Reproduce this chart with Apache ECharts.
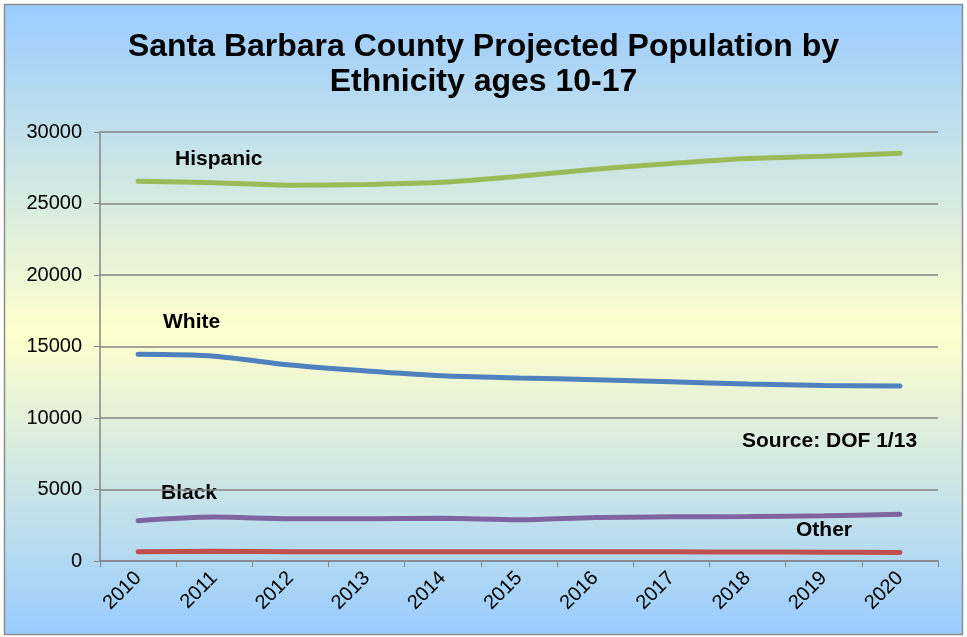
<!DOCTYPE html>
<html><head><meta charset="utf-8">
<script src="https://cdn.jsdelivr.net/npm/echarts@6/dist/echarts.min.js"></script>
<style>html,body{margin:0;padding:0;background:#fff}#c{width:967px;height:637px}</style>
</head><body><div id="c"></div>
<script>
var years = ['2010','2011','2012','2013','2014','2015','2016','2017','2018','2019','2020'];
var hispanic = [26550, 26450, 26280, 26330, 26480, 26900, 27400, 27800, 28150, 28300, 28520];
var white = [14450, 14320, 13700, 13280, 12950, 12800, 12680, 12530, 12380, 12280, 12230];
var black = [2820, 3070, 2960, 2960, 2990, 2890, 3050, 3090, 3110, 3160, 3270];
var other = [640, 680, 650, 650, 650, 650, 650, 640, 630, 620, 600];
var yTicks = [0, 5000, 10000, 15000, 20000, 25000, 30000];

var chart = echarts.init(document.getElementById('c'));
var font = '"Liberation Sans", Arial, sans-serif';
function ser(name, data, color) {
  return {name: name, type: 'line', data: data, smooth: 0.3, symbol: 'none',
    lineStyle: {color: color, width: 5, cap: 'round'}, z: 5};
}
var lbl = 'bold 21px ' + font;
chart.setOption({
  animation: false,
  graphic: [
    {type: 'rect', shape: {x: 4.5, y: 4.5, width: 958, height: 630}, z: -10,
     style: {stroke: '#8c8c8c', lineWidth: 1.5,
       fill: {type: 'linear', x: 0, y: 0, x2: 0, y2: 1, colorStops: [
         {offset: 0, color: '#99CCFF'}, {offset: 0.52, color: '#FFFFCC'}, {offset: 1, color: '#99CCFF'}]}}},
    {type: 'text', left: 175, top: 149, style: {text: 'Hispanic', font: lbl, fill: '#000'}},
    {type: 'text', left: 163, top: 312, style: {text: 'White', font: lbl, fill: '#000'}},
    {type: 'text', left: 161, top: 483, style: {text: 'Black', font: lbl, fill: '#000'}},
    {type: 'text', left: 796, top: 520, style: {text: 'Other', font: lbl, fill: '#000'}},
    {type: 'text', left: 742, top: 431, style: {text: 'Source: DOF 1/13', font: 'bold 21px ' + font, fill: '#000'}}
  ],
  title: {text: 'Santa Barbara County Projected Population by\nEthnicity ages 10-17', left: 'center', top: 25,
    textStyle: {fontFamily: font, fontWeight: 'bold', fontSize: 32, lineHeight: 35, color: '#000'}},
  grid: {left: 100, right: 29, top: 132, bottom: 76, containLabel: false},
  xAxis: {type: 'category', data: years, boundaryGap: true,
    axisLine: {lineStyle: {color: '#868686', width: 1.5}},
    axisTick: {show: true, length: 6, lineStyle: {color: '#868686'}},
    axisLabel: {rotate: 45, fontFamily: font, fontSize: 20, color: '#000', margin: 14}},
  yAxis: {type: 'value', min: 0, max: 30000, interval: 5000,
    axisLine: {show: true, lineStyle: {color: '#868686', width: 1.5}},
    axisTick: {show: true, length: 6, lineStyle: {color: '#868686'}},
    splitLine: {lineStyle: {color: '#868686', width: 1.5}},
    axisLabel: {fontFamily: font, fontSize: 20, color: '#000', margin: 18,
      formatter: function (v) { return yTicks.indexOf(v) >= 0 ? String(v) : ''; }}},
  series: [
    ser('Hispanic', hispanic, '#9BBB59'),
    ser('White', white, '#4F81BD'),
    ser('Black', black, '#8064A2'),
    ser('Other', other, '#C0504D')
  ]
});
</script></body></html>
